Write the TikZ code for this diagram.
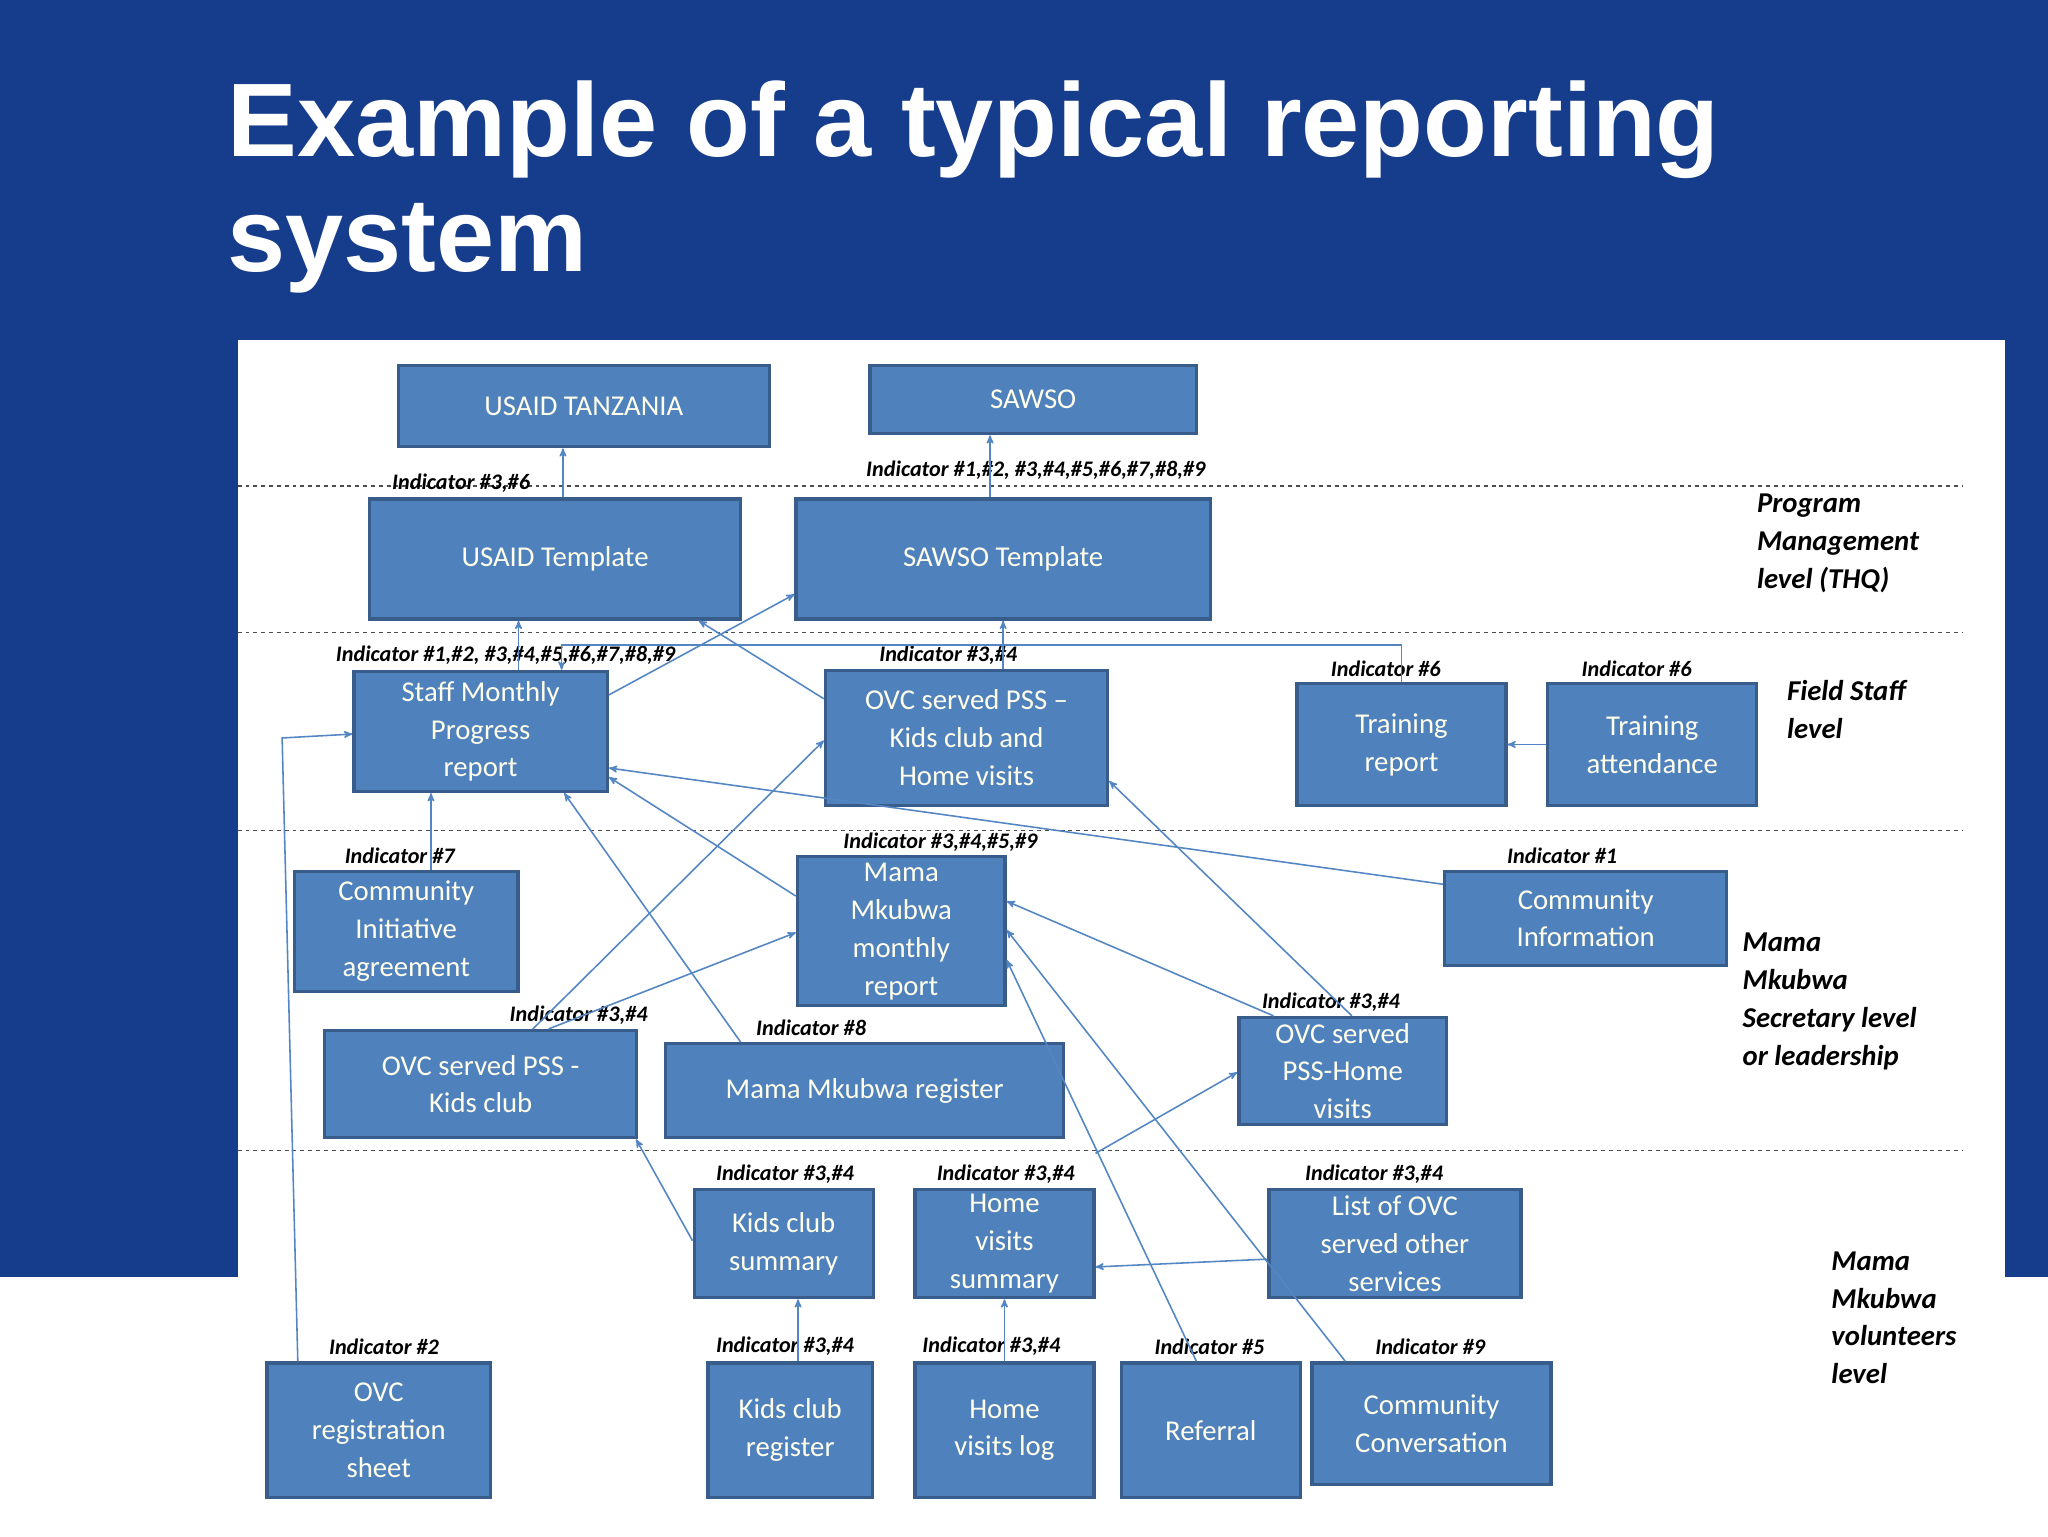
\documentclass[tikz,border=0pt]{standalone}
\usepackage{fontspec}
\setmainfont{Carlito}
\newfontfamily\titlefont{Liberation Sans}
\usetikzlibrary{arrows}
\definecolor{slidebg}{RGB}{22,60,140}
\definecolor{boxfill}{RGB}{79,129,189}
\definecolor{boxline}{RGB}{56,93,138}
\definecolor{wire}{RGB}{84,134,196}
\begin{document}
\begin{tikzpicture}[x=1pt,y=-1pt,
  box/.style={draw=boxline, fill=boxfill, line width=2.5pt, text=white!92!yellow,
    align=center, inner sep=2pt, font=\fontsize{22}{29}\selectfont},
  ind/.style={font=\fontsize{17}{20}\selectfont\bfseries\itshape, inner sep=0pt},
  lvl/.style={font=\fontsize{22}{29}\selectfont\bfseries\itshape, align=left, anchor=north west, inner sep=0pt},
  wire/.style={draw=wire, line width=1.2pt, ->, >=stealth'},
  sepline/.style={draw=black!70, dashed, line width=1pt}]
\useasboundingbox (0,0) rectangle (1568,1176);
\fill[slidebg] (0,0) rectangle (1568,1176);
\fill[white] (182,260) rectangle (1535,1176);
\fill[white] (0,978) rectangle (1568,1176);
\node[anchor=north west, text=white, align=left, inner sep=0pt,
  font=\titlefont\fontsize{80}{88}\selectfont\bfseries] (title) at (174,62)
  {Example of a typical reporting\\system};
% level separators
\foreach \yy in {372,484,636,881} \draw[sepline] (182,\yy) -- (1503,\yy);
% boxes
\node[box, minimum width=284, minimum height=62] (usaidtz) at (447,311) {USAID TANZANIA};
\node[box, minimum width=250, minimum height=52] (sawso) at (791,306) {SAWSO};
\node[box, minimum width=284, minimum height=92] (usaidt) at (425,428) {USAID Template};
\node[box, minimum width=317, minimum height=92] (sawsot) at (768,428) {SAWSO Template};
\node[box, minimum width=194, minimum height=92] (staff) at (368,560) {Staff Monthly\\Progress\\report};
\node[box, minimum width=216, minimum height=103] (ovcpss) at (740,565) {OVC served PSS --\\Kids club and\\Home visits};
\node[box, minimum width=160, minimum height=93] (trainr) at (1073,570) {Training\\report};
\node[box, minimum width=160, minimum height=93] (traina) at (1265,570) {Training\\attendance};
\node[box, minimum width=171, minimum height=92] (cia) at (311,713) {Community\\Initiative\\agreement};
\node[box, minimum width=159, minimum height=114] (mama) at (690,713) {Mama\\Mkubwa\\monthly\\report};
\node[box, minimum width=216, minimum height=72] (ci) at (1214,703) {Community\\Information};
\node[box, minimum width=239, minimum height=82] (ovckc) at (368,830) {OVC served PSS -\\Kids club};
\node[box, minimum width=305, minimum height=72] (mmr) at (662,835) {Mama Mkubwa register};
\node[box, minimum width=159, minimum height=82] (ovchv) at (1028,820) {OVC served\\PSS-Home\\visits};
\node[box, minimum width=137, minimum height=83] (kcs) at (600,952) {Kids club\\summary};
\node[box, minimum width=137, minimum height=83] (hvs) at (769,952) {Home\\visits\\summary};
\node[box, minimum width=193, minimum height=83] (list) at (1068,952) {List of OVC\\served other\\services};
\node[box, minimum width=171, minimum height=103] (ovcreg) at (290,1095) {OVC\\registration\\sheet};
\node[box, minimum width=126, minimum height=103] (kcr) at (605,1095) {Kids club\\register};
\node[box, minimum width=137, minimum height=103] (hvl) at (769,1095) {Home\\visits log};
\node[box, minimum width=137, minimum height=103] (ref) at (927,1095) {Referral};
\node[box, minimum width=183, minimum height=93] (cc) at (1096,1090) {Community\\Conversation};
% indicator labels
\node[ind] (i1) at (353,370) {Indicator \#3,\#6};
\node[ind] (i2) at (793,360) {Indicator \#1,\#2, \#3,\#4,\#5,\#6,\#7,\#8,\#9};
\node[ind] (i3) at (387,502) {Indicator \#1,\#2, \#3,\#4,\#5,\#6,\#7,\#8,\#9};
\node[ind] (i4) at (726,502) {Indicator \#3,\#4};
\node[ind] (i5) at (1061,512) {Indicator \#6};
\node[ind] (i6) at (1253,512) {Indicator \#6};
\node[ind] (i7) at (306,655) {Indicator \#7};
\node[ind] (i8) at (720,645) {Indicator \#3,\#4,\#5,\#9};
\node[ind] (i9) at (1196,655) {Indicator \#1};
\node[ind] (i10) at (443,777) {Indicator \#3,\#4};
\node[ind] (i11) at (621,787) {Indicator \#8};
\node[ind] (i12) at (1019,767) {Indicator \#3,\#4};
\node[ind] (i13) at (601,899) {Indicator \#3,\#4};
\node[ind] (i14) at (770,899) {Indicator \#3,\#4};
\node[ind] (i15) at (1052,899) {Indicator \#3,\#4};
\node[ind] (i16) at (294,1031) {Indicator \#2};
\node[ind] (i17) at (601,1031) {Indicator \#3,\#4};
\node[ind] (i18) at (759,1031) {Indicator \#3,\#4};
\node[ind] (i19) at (926,1031) {Indicator \#5};
\node[ind] (i20) at (1095,1031) {Indicator \#9};
% level labels
\node[lvl] (l1) at (1345,378) {Program\\Management\\level (THQ)};
\node[lvl] (l2) at (1368,521) {Field Staff\\level};
\node[lvl] (l3) at (1334,714) {Mama\\Mkubwa\\Secretary level\\or leadership};
\node[lvl] (l4) at (1402,958) {Mama\\Mkubwa\\volunteers\\level};
% connectors
\draw[wire] (usaidt.north -| 431,0) -- (usaidtz.south -| 431,0);
\draw[wire] (sawsot.north -| 758,0) -- (sawso.south -| 758,0);
\draw[wire] (staff.north -| 397,0) -- (usaidt.south -| 397,0);
\draw[wire] (staff.east |- 0,532) -- (sawsot.west |- 0,455);
\draw[wire] (ovcpss.west |- 0,535) -- (usaidt.south -| 535,0);
\draw[wire] (ovcpss.north -| 768,0) -- (sawsot.south -| 768,0);
\draw[wire] (trainr.north) |- (430,494) -- (staff.north -| 430,0);
\draw[wire] (traina.west) -- (trainr.east);
\draw[wire] (cia.north -| 330,0) -- (staff.south -| 330,0);
\draw[wire] (ci.west |- 0,677) -- (staff.east |- 0,588);
\draw[wire] (mama.west |- 0,686) -- (staff.east |- 0,595);
\draw[wire] (mmr.north -| 567,0) -- (staff.south -| 432,0);
\draw[wire] (ovckc.north -| 408,0) -- (ovcpss.west |- 0,567);
\draw[wire] (ovckc.north -| 420,0) -- (mama.west |- 0,714);
\draw[wire] (ovchv.north -| 975,0) -- (mama.east |- 0,690);
\draw[wire] (ovchv.north -| 1035,0) -- (ovcpss.east |- 0,598);
\draw[wire] (kcs.west |- 0,950) -- (ovckc.south -| 487,0);
\draw[wire] (hvs.east |- 0,883) -- (ovchv.west |- 0,821);
\draw[wire] (list.west |- 0,964) -- (hvs.east |- 0,970);
\draw[wire] (cc.north -| 1030,0) -- (mama.east |- 0,712);
\draw[wire] (ref.north -| 916,0) -- (mama.east |- 0,735);
\draw[wire] (kcr.north -| 611,0) -- (kcs.south -| 611,0);
\draw[wire] (hvl.north) -- (hvs.south);
\draw[wire] (ovcreg.north -| 228,0) -- (216,565) -- (staff.west |- 0,562);
\end{tikzpicture}
\end{document}
